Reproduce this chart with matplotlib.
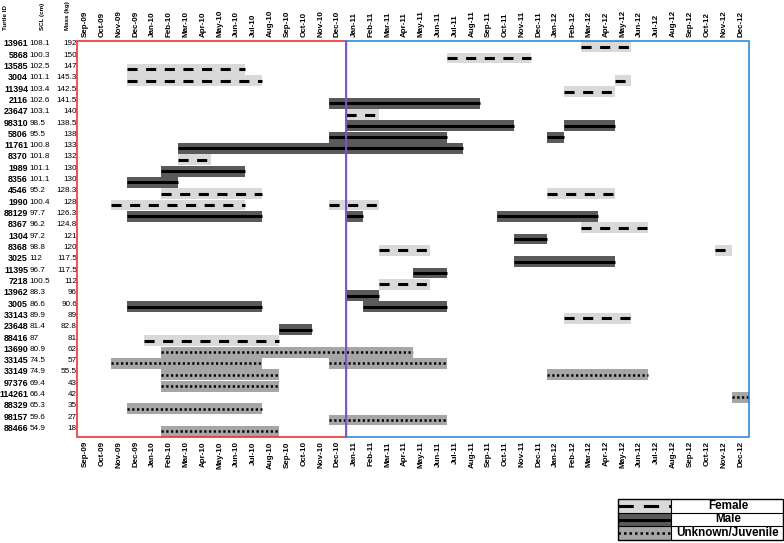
import matplotlib
matplotlib.use("Agg")
import matplotlib.pyplot as plt
import matplotlib.transforms as mtransforms
from matplotlib.patches import Rectangle
import pandas as pd

plt.rcParams['font.family'] = ['Liberation Sans', 'DejaVu Sans']

# months on the x axis
months = list(pd.date_range('2009-09-01', periods=40, freq='MS').strftime('%b-%y'))

# turtle table (top to bottom)
turtle_ids = ['13961', '5868', '13585', '3004', '11394', '2116', '23647', '98310',
              '5806', '11761', '8370', '1989', '8356', '4546', '1990', '88129',
              '8367', '1304', '8368', '3025', '11395', '7218', '13962', '3005',
              '33143', '23648', '88416', '13690', '33145', '33149', '97376',
              '114261', '88329', '98157', '88466']
scl_cm = ['108.1', '100.3', '102.5', '101.1', '103.4', '102.6', '103.1', '98.5',
          '95.5', '100.8', '101.8', '101.1', '101.1', '95.2', '100.4', '97.7',
          '96.2', '97.2', '98.8', '112', '96.7', '100.5', '88.3', '86.6',
          '89.9', '81.4', '87', '80.9', '74.5', '74.9', '69.4',
          '66.4', '65.3', '59.6', '54.9']
mass_kg = ['192', '150', '147', '145.3', '142.5', '141.5', '140', '138.5',
           '138', '133', '132', '130', '130', '128.3', '128', '126.3',
           '124.8', '121', '120', '117.5', '117.5', '112', '96', '90.6',
           '89', '82.8', '81', '62', '57', '55.5', '43',
           '42', '35', '27', '18']

# tracking periods: turtle, sex, first month, last month (inclusive)
periods = [
    ('13961', 'F', 'Mar-12', 'May-12'),
    ('5868', 'F', 'Jul-11', 'Nov-11'),
    ('13585', 'F', 'Dec-09', 'Jun-10'),
    ('3004', 'F', 'Dec-09', 'Jul-10'),
    ('3004', 'F', 'May-12', 'May-12'),
    ('11394', 'F', 'Feb-12', 'Apr-12'),
    ('2116', 'M', 'Dec-10', 'Aug-11'),
    ('23647', 'F', 'Jan-11', 'Feb-11'),
    ('98310', 'M', 'Jan-11', 'Oct-11'),
    ('98310', 'M', 'Feb-12', 'Apr-12'),
    ('5806', 'M', 'Dec-10', 'Jun-11'),
    ('5806', 'M', 'Jan-12', 'Jan-12'),
    ('11761', 'M', 'Mar-10', 'Jul-11'),
    ('8370', 'F', 'Mar-10', 'Apr-10'),
    ('1989', 'M', 'Feb-10', 'Jun-10'),
    ('8356', 'M', 'Dec-09', 'Feb-10'),
    ('4546', 'F', 'Feb-10', 'Jul-10'),
    ('4546', 'F', 'Jan-12', 'Apr-12'),
    ('1990', 'F', 'Nov-09', 'Jun-10'),
    ('1990', 'F', 'Dec-10', 'Feb-11'),
    ('88129', 'M', 'Dec-09', 'Jul-10'),
    ('88129', 'M', 'Jan-11', 'Jan-11'),
    ('88129', 'M', 'Oct-11', 'Mar-12'),
    ('8367', 'F', 'Mar-12', 'Jun-12'),
    ('1304', 'M', 'Nov-11', 'Dec-11'),
    ('8368', 'F', 'Mar-11', 'May-11'),
    ('8368', 'F', 'Nov-12', 'Nov-12'),
    ('3025', 'M', 'Nov-11', 'Apr-12'),
    ('11395', 'M', 'May-11', 'Jun-11'),
    ('7218', 'F', 'Mar-11', 'May-11'),
    ('13962', 'M', 'Jan-11', 'Feb-11'),
    ('3005', 'M', 'Dec-09', 'Jul-10'),
    ('3005', 'M', 'Feb-11', 'Jun-11'),
    ('33143', 'F', 'Feb-12', 'May-12'),
    ('23648', 'M', 'Sep-10', 'Oct-10'),
    ('88416', 'F', 'Jan-10', 'Aug-10'),
    ('13690', 'U', 'Feb-10', 'Apr-11'),
    ('33145', 'U', 'Nov-09', 'Jul-10'),
    ('33145', 'U', 'Dec-10', 'Jun-11'),
    ('33149', 'U', 'Feb-10', 'Aug-10'),
    ('33149', 'U', 'Jan-12', 'Jun-12'),
    ('97376', 'U', 'Feb-10', 'Aug-10'),
    ('114261', 'U', 'Dec-12', 'Dec-12'),
    ('88329', 'U', 'Dec-09', 'Jul-10'),
    ('98157', 'U', 'Dec-10', 'Jun-11'),
    ('88466', 'U', 'Feb-10', 'Aug-10'),
]

# fill colour, line width (pt), line style for each class
styles = {
    'F': ('#d9d9d9', 2.2, (0, (3.3, 2.8))),
    'M': ('#5a5a5a', 2.2, '-'),
    'U': ('#a6a6a6', 1.8, (0, (0.9, 1.0))),
}

W, H = 784, 543
fig = plt.figure(figsize=(W / 100, H / 100), dpi=100)
ax = fig.add_axes([77 / W, 1 - 437 / H, (749 - 77) / W, (437 - 41) / H])

row_of = {t: i for i, t in enumerate(turtle_ids)}
for tid, sex, m0, m1 in periods:
    r = row_of[tid]
    a = months.index(m0)
    b = months.index(m1) + 1
    fill, lw, ls = styles[sex]
    ax.barh(r, b - a, left=a, height=0.96, color=fill, zorder=2)
    ax.plot([a, b], [r, r], color='black', lw=lw, linestyle=ls,
            solid_capstyle='butt', dash_capstyle='butt', zorder=3)

ax.set_xlim(0, 40)
ax.set_ylim(len(turtle_ids) - 0.5, -0.5)
for s in ax.spines.values():
    s.set_visible(False)
ax.set_yticks([])
ax.set_xticks([i + 0.5 for i in range(len(months))])
ax.set_xticklabels(months, rotation=90, fontsize=5.8, fontweight='bold')
ax.tick_params(axis='x', length=0, pad=3, labeltop=True, labelbottom=True)

# 2009-10 box (red), 2011-12 box (blue), divider (purple)
ax.add_patch(Rectangle((0, -0.5), 16, len(turtle_ids), fill=False,
                       ec='#ee2222', lw=1.1, zorder=5, clip_on=False))
ax.add_patch(Rectangle((16, -0.5), 24, len(turtle_ids), fill=False,
                       ec='#1f7fd6', lw=1.1, zorder=5, clip_on=False))
ax.axvline(16, color='#9448cc', lw=1.0, zorder=6)

# table on the left
tr = mtransforms.blended_transform_factory(fig.transFigure, ax.transData)
for i, (tid, scl, mass) in enumerate(zip(turtle_ids, scl_cm, mass_kg)):
    y = i - 0.25
    ax.text(28 / W, y, tid, transform=tr, ha='right', va='center',
            fontsize=6.4, fontweight='bold', clip_on=False)
    ax.text(29.5 / W, y, scl, transform=tr, ha='left', va='center',
            fontsize=5.9, clip_on=False)
    ax.text(77 / W, y, mass, transform=tr, ha='right', va='center',
            fontsize=5.9, clip_on=False)

for x, label in [(6, 'Turtle ID'), (42.5, 'SCL (cm)'), (67.5, 'Mass (kg)')]:
    fig.text(x / W, 1 - 30 / H, label, rotation=90, ha='center', va='bottom',
             fontsize=4.5, fontweight='bold')

# legend box
lg = fig.add_axes([618 / W, 1 - 540 / H, 165 / W, 41 / H])
lg.set_xlim(0, 165)
lg.set_ylim(0, 3)
lg.axis('off')
legend_rows = [('F', 'Female', (0, (5, 3.3))),
               ('M', 'Male', '-'),
               ('U', 'Unknown/Juvenile', (0, (1.0, 1.2)))]
for k, (sex, label, ls) in enumerate(legend_rows):
    y0 = 2 - k
    fill, lw, _ = styles[sex]
    lg.add_patch(Rectangle((0, y0), 53, 1, color=fill, lw=0))
    lg.plot([0, 53], [y0 + 0.5, y0 + 0.5], color='black', lw=lw, linestyle=ls,
            solid_capstyle='butt', dash_capstyle='butt')
    lg.text(110, y0 + 0.5, label, ha='center', va='center',
            fontsize=8.4, fontweight='bold')
lg.add_patch(Rectangle((0, 0), 165, 3, fill=False, ec='black', lw=1.0,
                       clip_on=False))
for yy in (1, 2):
    lg.plot([0, 165], [yy, yy], color='black', lw=0.8, clip_on=False)
lg.plot([53, 53], [0, 3], color='black', lw=0.8, clip_on=False)

plt.savefig('out.png', dpi=100)
plt.close(fig)
